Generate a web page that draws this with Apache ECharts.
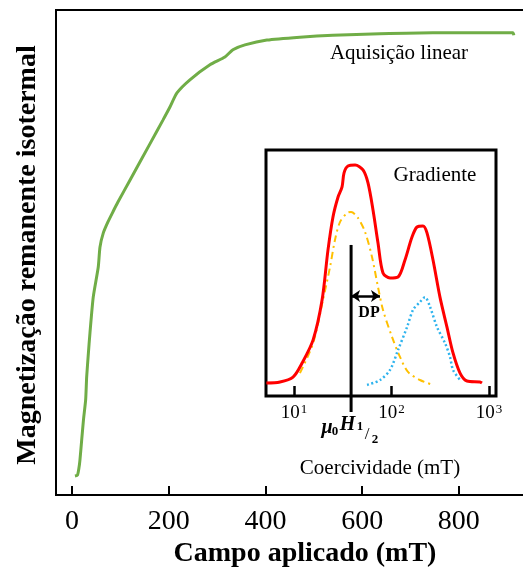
<!DOCTYPE html>
<html>
<head>
<meta charset="utf-8">
<script src="https://cdn.jsdelivr.net/npm/echarts@6/dist/echarts.min.js"></script>
<style>
  html, body { margin: 0; padding: 0; background: #fff; }
  #chart { width: 523px; height: 573px; }
</style>
</head>
<body>
<div id="chart"></div>
<script>
// Main IRM acquisition curve: applied field (mT) vs remanent magnetization (relative units)
const fieldMT = [6.2, 11.4, 14.5, 16.5, 20.1, 23.8, 28.3, 30.4, 33.7, 37.2, 44.0, 54.4, 57.9, 64.7, 74.4, 84.8, 95.1, 119.9, 161.2, 188.1, 202.6, 217.1, 243.9, 285.3, 316.3, 332.8, 357.6, 403.1, 471.3, 539.5, 636.7, 746.3, 843.4, 911.6, 913.7];
const irm = [3.9, 4.1, 5.6, 7.2, 11.3, 15.5, 19.6, 24.3, 28.9, 33.4, 40.8, 47.0, 51.1, 54.0, 56.3, 58.4, 60.4, 64.9, 72.4, 77.3, 80.0, 82.9, 85.6, 88.7, 90.3, 91.8, 92.8, 93.8, 94.4, 94.8, 95.1, 95.3, 95.3, 95.3, 94.8];
const fieldTicks = [0, 200, 400, 600, 800];

// Inset: coercivity spectrum (gradient of the IRM curve), log field axis
const gradField = [5.2, 7.18, 9.77, 12.1, 15.7, 19.4, 22.3, 25.1, 28.3, 31.1, 32.6, 35.8, 42.3, 51.0, 57.4, 64.6, 72.7, 81.8, 96.6, 116.7, 137.5, 162.3, 182.7, 210.4, 231.2, 266.6, 314.2, 370.7, 427.5, 504.7, 594.3, 808.7, 847];
const gradTotal = [5.3, 5.7, 7.7, 13.4, 22.8, 39.0, 59.3, 72.8, 80.9, 85.0, 90.7, 93.5, 93.9, 91.9, 86.6, 75.6, 62.2, 50.0, 48.0, 48.4, 55.3, 64.6, 68.7, 69.1, 66.3, 55.3, 40.2, 28.0, 17.5, 9.3, 6.1, 5.7, 5.3];
const softField = [11.5, 15.7, 19.8, 23.4, 26.3, 29.6, 35.0, 38.5, 45.3, 53.5, 63.1, 72.7, 81.8, 101.2, 122.2, 147.6, 195.9, 266.6];
const softComp = [9.3, 21.5, 39.0, 52.4, 63.4, 70.7, 74.4, 74.8, 72.4, 66.7, 56.5, 44.3, 35.0, 24.0, 15.9, 9.8, 6.5, 4.5];
const hardField = [56.1, 76.2, 96.6, 116.7, 144.3, 166.3, 195.9, 220.6, 248.5, 293.0, 354.0, 398.1, 427.5, 504.7];
const hardComp = [4.5, 6.5, 10.6, 18.7, 28.0, 35.0, 38.2, 40.2, 36.2, 28.0, 21.5, 15.9, 10.6, 6.5];
const coercTicks = [10, 100, 1000];
const medianField = 38.5;           // mu0 H1/2 marker
const medianLine = [61.4, -6.5];    // vertical extent of the marker
const dpEnd = 76.2;                 // end of the dispersion (DP) arrow
const dpLevel = 40.7;

const serif = "'Liberation Serif', 'Times New Roman', serif";

const zip = (xs, ys) => xs.map((x, i) => [x, ys[i]]);

const chart = echarts.init(document.getElementById('chart'), null, { renderer: 'canvas' });

const option = {
  animation: false,
  backgroundColor: '#fff',
  grid: [
    // main plot box runs past the right edge of the canvas
    { left: 56, top: 10, width: 487, height: 485, outerBoundsMode: 'none', containLabel: false,
      show: true, borderColor: '#000', borderWidth: 2, backgroundColor: 'transparent' },
    { left: 266, top: 150, width: 230, height: 246, outerBoundsMode: 'none', containLabel: false,
      show: true, borderColor: '#000', borderWidth: 3, backgroundColor: '#fff' }
  ],
  xAxis: [
    {
      type: 'value', gridIndex: 0, min: -33, max: 974,
      splitLine: { show: false },
      axisLine: { show: false },
      axisTick: { inside: true, length: 9, customValues: fieldTicks, lineStyle: { color: '#000', width: 2 } },
      axisLabel: { customValues: fieldTicks, margin: 13, fontSize: 28, fontFamily: serif, color: '#000' }
    },
    {
      type: 'log', logBase: 10, gridIndex: 1, min: 5.16, max: 1180,
      splitLine: { show: false },
      axisLine: { show: false },
      axisTick: { inside: true, length: 10, customValues: coercTicks, lineStyle: { color: '#000', width: 2.5 } },
      axisLabel: {
        customValues: coercTicks, margin: 7, color: '#000',
        formatter: v => '{b|10}{s|' + Math.round(Math.log10(v)) + '}',
        rich: {
          b: { fontSize: 19, lineHeight: 20, fontFamily: serif, color: '#000' },
          s: { fontSize: 13, lineHeight: 20, fontFamily: serif, color: '#000', verticalAlign: 'top', padding: [0, 0, 0, 1] }
        }
      }
    }
  ],
  yAxis: [
    { type: 'value', gridIndex: 0, min: 0, max: 100, show: false },
    { type: 'value', gridIndex: 1, min: 0, max: 100, show: false }
  ],
  series: [
    {
      name: 'Aquisição linear', type: 'line', xAxisIndex: 0, yAxisIndex: 0,
      data: zip(fieldMT, irm), showSymbol: false, smooth: 0.2,
      lineStyle: { color: '#70AD47', width: 3 }
    },
    {
      name: 'Gradiente', type: 'line', xAxisIndex: 1, yAxisIndex: 1,
      data: zip(gradField, gradTotal), showSymbol: false, smooth: 0.3,
      lineStyle: { color: '#FF0000', width: 3 }, z: 4
    },
    {
      name: 'Componente macia', type: 'line', xAxisIndex: 1, yAxisIndex: 1,
      data: zip(softField, softComp), showSymbol: false, smooth: 0.3,
      lineStyle: { color: '#FFC000', width: 2, type: [7, 4, 2, 4] }, z: 3
    },
    {
      name: 'Componente dura', type: 'line', xAxisIndex: 1, yAxisIndex: 1,
      data: zip(hardField, hardComp), showSymbol: false, smooth: 0.3,
      lineStyle: { color: '#2FB4EE', width: 2.5, type: [2, 2.5] }, z: 3
    },
    {
      name: 'mu0H1/2', type: 'line', xAxisIndex: 1, yAxisIndex: 1, clip: false,
      data: medianLine.map(y => [medianField, y]), showSymbol: false,
      lineStyle: { color: '#000', width: 3 }, z: 5,
      markLine: {
        silent: true, symbol: ['arrow', 'arrow'], symbolSize: [9, 9],
        label: { show: false },
        lineStyle: { color: '#000', width: 2.5, type: 'solid' },
        data: [[{ coord: [medianField, dpLevel] }, { coord: [dpEnd, dpLevel] }]]
      }
    }
  ],
  graphic: [
    {
      type: 'text', x: 28, y: 255, rotation: Math.PI / 2,
      style: { text: 'Magnetização remanente isotermal', font: 'bold 28px ' + serif, fill: '#000', align: 'center', verticalAlign: 'middle' }
    },
    {
      type: 'text', x: 305, y: 554,
      style: { text: 'Campo aplicado (mT)', font: 'bold 28px ' + serif, fill: '#000', align: 'center', verticalAlign: 'middle' }
    },
    {
      type: 'text', x: 399, y: 53,
      style: { text: 'Aquisição linear', font: '21px ' + serif, fill: '#000', align: 'center', verticalAlign: 'middle' }
    },
    {
      type: 'text', x: 435, y: 175, z: 10,
      style: { text: 'Gradiente', font: '21px ' + serif, fill: '#000', align: 'center', verticalAlign: 'middle' }
    },
    {
      type: 'text', x: 380, y: 468,
      style: { text: 'Coercividade (mT)', font: '21px ' + serif, fill: '#000', align: 'center', verticalAlign: 'middle' }
    },
    {
      type: 'text', x: 369, y: 313, z: 10,
      style: { text: 'DP', font: 'bold 16px ' + serif, fill: '#000', align: 'center', verticalAlign: 'middle' }
    },
    { type: 'text', x: 327, y: 428, style: { text: 'μ', font: 'bold italic 20px ' + serif, fill: '#000', align: 'center', verticalAlign: 'middle' } },
    { type: 'text', x: 335, y: 432, style: { text: '0', font: 'bold 13px ' + serif, fill: '#000', align: 'center', verticalAlign: 'middle' } },
    { type: 'text', x: 347.5, y: 425, style: { text: 'H', font: 'bold italic 20px ' + serif, fill: '#000', align: 'center', verticalAlign: 'middle' } },
    { type: 'text', x: 360, y: 427, style: { text: '1', font: 'bold 13px ' + serif, fill: '#000', align: 'center', verticalAlign: 'middle' } },
    { type: 'text', x: 367, y: 435, style: { text: '/', font: '17px ' + serif, fill: '#000', align: 'center', verticalAlign: 'middle' } },
    { type: 'text', x: 375, y: 440, style: { text: '2', font: 'bold 13px ' + serif, fill: '#000', align: 'center', verticalAlign: 'middle' } }
  ]
};

chart.setOption(option);
</script>
</body>
</html>
